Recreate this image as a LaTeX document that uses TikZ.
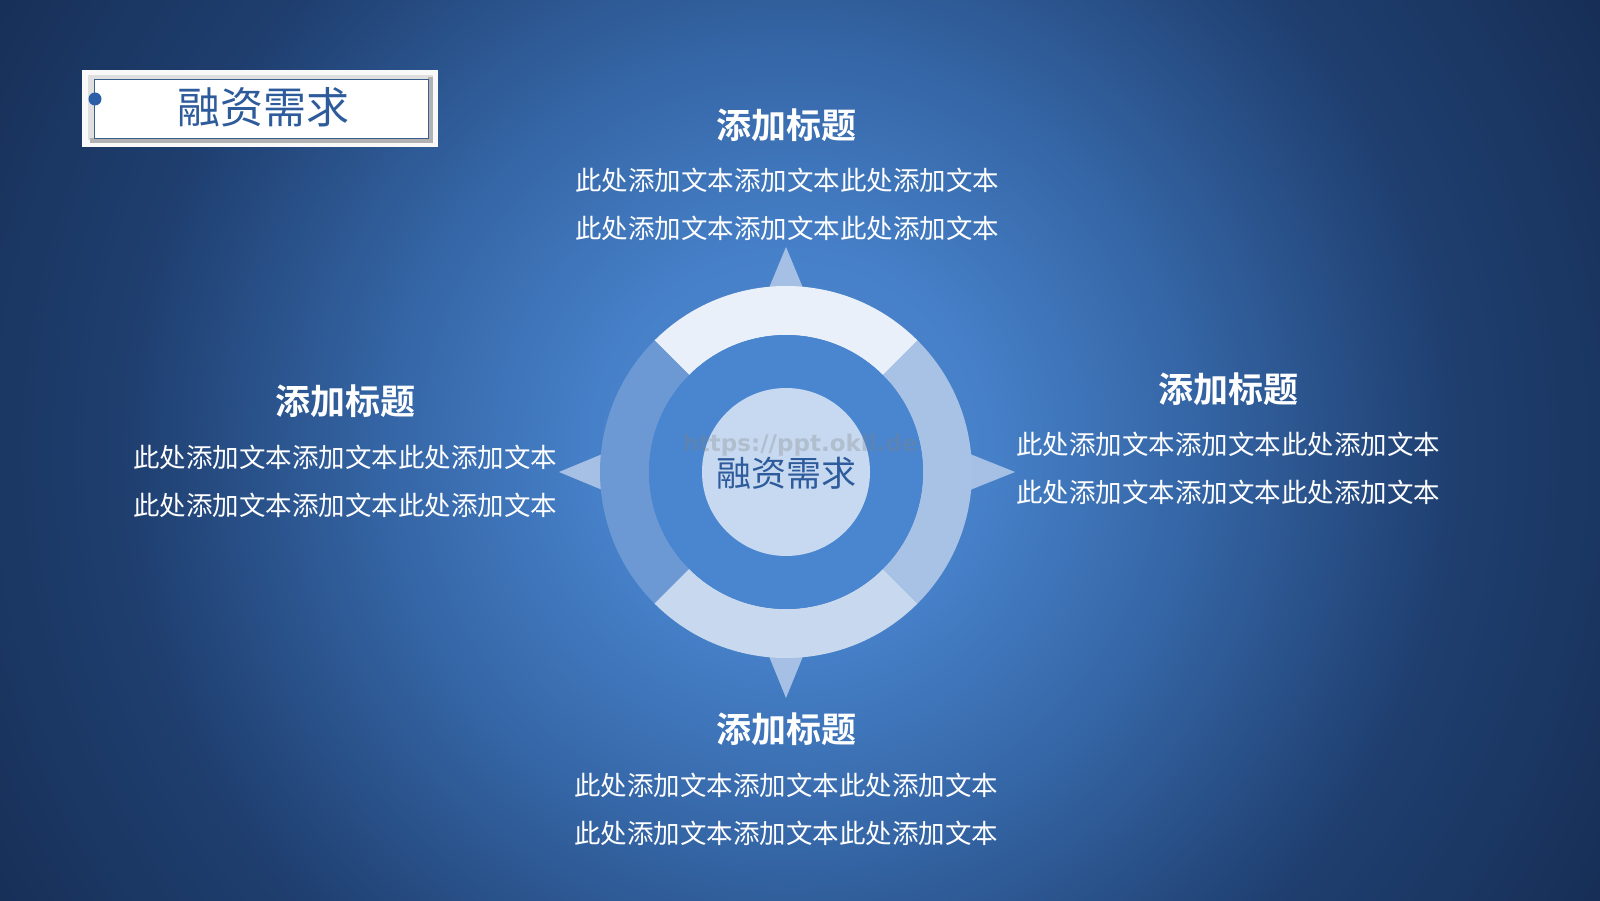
\documentclass[tikz,border=0pt]{standalone}
\usepackage{fontspec}
\newfontfamily\cjk{Noto Sans CJK SC}
\newfontfamily\cjkb{Noto Sans CJK SC Bold}
\newfontfamily\wmfont{DejaVu Sans}
\usetikzlibrary{calc}
\definecolor{bgA}{HTML}{5089D0}
\definecolor{bgB}{HTML}{4680C8}
\definecolor{bgC}{HTML}{3566A6}
\definecolor{bgD}{HTML}{1F3F70}
\definecolor{bgE}{HTML}{142A4F}
\definecolor{segTop}{HTML}{E9F0FA}
\definecolor{segRight}{HTML}{A8C2E5}
\definecolor{segBottom}{HTML}{C8D9EF}
\definecolor{segLeft}{HTML}{6C99D4}
\definecolor{midRing}{HTML}{4A86CF}
\definecolor{coreFill}{HTML}{C6D9F1}
\definecolor{triFill}{HTML}{A5C0E4}
\definecolor{titleBlue}{HTML}{2D5B9B}
\definecolor{dotBlue}{HTML}{2B5EA6}
\definecolor{frameLine}{HTML}{3A5F8F}
\pgfdeclareradialshading{bgshade}{\pgfpoint{0bp}{0bp}}{color(0bp)=(bgA); color(5bp)=(bgB); color(10bp)=(bgC); color(16.5bp)=(bgD); color(25bp)=(bgE); color(50bp)=(bgE)}
\tikzset{
  head/.style={inner sep=0pt, text=white, font=\cjkb\fontsize{35}{40}\selectfont},
  body/.style={inner sep=0pt, text=white, font=\cjk\fontsize{26.5}{30}\selectfont},
  tri/.style={fill=triFill},
}
\begin{document}
\begin{tikzpicture}[x=1pt,y=1pt]
\useasboundingbox (0,0) rectangle (1600,900);
\begin{scope}
\clip (0,0) rectangle (1600,900);
\shade[shading=bgshade] (-210,-550) rectangle (1790,1450);
\end{scope}
% centre
\coordinate (C) at (786,428);
% triangles
\fill[tri] (786,653) -- (764,600) -- (808,600) -- cycle;
\fill[tri] (786,202) -- (764,256) -- (808,256) -- cycle;
\fill[tri] (559,428) -- (612,406) -- (612,450) -- cycle;
\fill[tri] (1015,428) -- (960,406) -- (960,450) -- cycle;
% ring segments
\fill[segTop] ($(C)+(45:186)$) arc[start angle=45,end angle=135,radius=186] -- ($(C)+(135:137)$) arc[start angle=135,end angle=45,radius=137] -- cycle;
\fill[segLeft] ($(C)+(135:186)$) arc[start angle=135,end angle=225,radius=186] -- ($(C)+(225:137)$) arc[start angle=225,end angle=135,radius=137] -- cycle;
\fill[segBottom] ($(C)+(225:186)$) arc[start angle=225,end angle=315,radius=186] -- ($(C)+(315:137)$) arc[start angle=315,end angle=225,radius=137] -- cycle;
\fill[segRight] ($(C)+(-45:186)$) arc[start angle=-45,end angle=45,radius=186] -- ($(C)+(45:137)$) arc[start angle=45,end angle=-45,radius=137] -- cycle;
\fill[midRing] (C) circle[radius=137];
\fill[coreFill] (C) circle[radius=84];
\node[inner sep=0pt, text=gray, opacity=0.3, font=\wmfont\bfseries\fontsize{23}{26}\selectfont] (wm) at (800,455) {https://ppt.okll.de};
\node[inner sep=0pt, text=titleBlue, font=\cjk\fontsize{35}{40}\selectfont] (core) at (786,427) {融资需求};
% title box
\fill[white!95!gray] (82,753) rectangle (438,830);
\fill[gray!25] (88,760) rectangle (433,825);
\fill[gray!60] (90,757) rectangle (433,762);
\fill[gray!60] (428,757) rectangle (433,823);
\fill[white] (94,762) rectangle (428,821);
\draw[frameLine, line width=0.7pt] (94,762) rectangle (428,821);
\fill[dotBlue] (95,801) circle[radius=6.5];
\node[inner sep=0pt, text=titleBlue, font=\cjk\fontsize{43}{48}\selectfont] (title) at (263,793) {融资需求};
% top block
\node[head] (h1) at (786,775) {添加标题};
\node[body] (t1a) at (787,720) {此处添加文本添加文本此处添加文本};
\node[body] (t1b) at (787,672) {此处添加文本添加文本此处添加文本};
% left block
\node[head] (h2) at (345,499) {添加标题};
\node[body] (t2a) at (345,443) {此处添加文本添加文本此处添加文本};
\node[body] (t2b) at (345,395) {此处添加文本添加文本此处添加文本};
% right block
\node[head] (h3) at (1228,511) {添加标题};
\node[body] (t3a) at (1228,456) {此处添加文本添加文本此处添加文本};
\node[body] (t3b) at (1228,408) {此处添加文本添加文本此处添加文本};
% bottom block
\node[head] (h4) at (786,171) {添加标题};
\node[body] (t4a) at (786,115) {此处添加文本添加文本此处添加文本};
\node[body] (t4b) at (786,67) {此处添加文本添加文本此处添加文本};
\end{tikzpicture}
\end{document}
